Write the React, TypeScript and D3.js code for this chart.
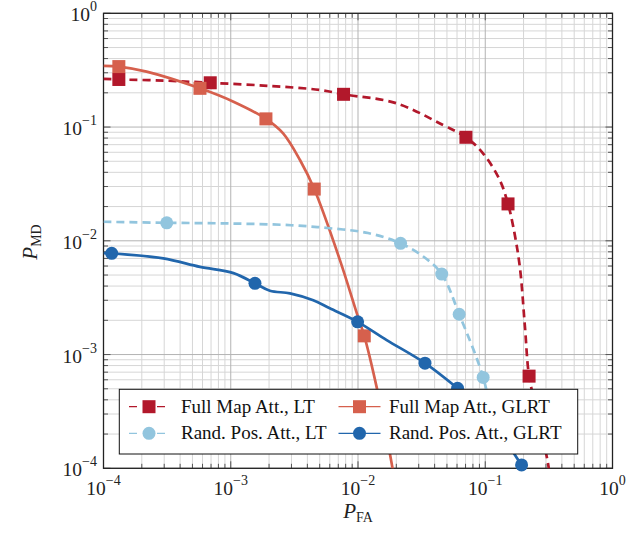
import React from 'react';
import * as d3 from 'd3';

// curve samples (P_FA, P_MD)
const fullLtX = [1e-4, 1.32e-4, 3e-4, 6.9e-4, 2e-3, 5e-3, 7.7e-3, 2e-2, 4.67e-2, 7.05e-2, 9.6e-2, 0.13, 0.151, 0.166, 0.187, 0.205, 0.221, 0.253, 0.308, 0.32];
const fullLtY = [0.265, 0.262, 0.256, 0.245, 0.23, 0.212, 0.194, 0.162, 0.104, 0.0813, 0.0588, 0.0342, 0.0211, 0.0133, 0.0059, 0.00176, 6.46e-4, 3.26e-4, 1.18e-4, 9e-5];
const fullLtMarkX = [1.32e-4, 6.9e-4, 7.7e-3, 0.0705, 0.151, 0.221];
const fullLtMarkY = [0.262, 0.245, 0.194, 0.0813, 0.0211, 6.46e-4];

const fullGlrtX = [1e-4, 1.32e-4, 2.18e-4, 5.73e-4, 1.05e-3, 1.89e-3, 2.58e-3, 3.5e-3, 4.53e-3, 7.2e-3, 9.8e-3, 1.12e-2, 1.4e-2, 1.68e-2, 1.9e-2];
const fullGlrtY = [0.345, 0.34, 0.307, 0.219, 0.167, 0.118, 0.088, 0.0513, 0.0285, 0.0068, 0.0023, 0.00146, 5.2e-4, 1.9e-4, 9e-5];
const fullGlrtMarkX = [1.32e-4, 5.73e-4, 1.89e-3, 4.53e-3, 1.12e-2];
const fullGlrtMarkY = [0.34, 0.219, 0.118, 0.0285, 0.00146];

const randLtX = [1e-4, 3.14e-4, 1e-3, 3e-3, 6e-3, 1.2e-2, 2.16e-2, 3.3e-2, 4.55e-2, 6.24e-2, 9.63e-2, 0.115];
const randLtY = [0.0147, 0.0144, 0.0142, 0.0137, 0.0129, 0.0117, 0.0095, 0.0072, 0.0051, 0.00226, 6.3e-4, 2.5e-4];
const randLtMarkX = [3.14e-4, 2.16e-2, 4.55e-2, 6.24e-2, 9.63e-2];
const randLtMarkY = [0.0144, 0.0095, 0.0051, 0.00226, 6.3e-4];

const randGlrtX = [1e-4, 1.16e-4, 2.95e-4, 5.73e-4, 1.05e-3, 1.55e-3, 2.03e-3, 2.92e-3, 4.45e-3, 6e-3, 9.93e-3, 1.68e-2, 3.36e-2, 6.06e-2, 0.12, 0.165, 0.193];
const randGlrtY = [7.8e-3, 7.76e-3, 7.0e-3, 5.9e-3, 5.2e-3, 4.23e-3, 3.64e-3, 3.45e-3, 3.0e-3, 2.55e-3, 1.94e-3, 1.34e-3, 8.4e-4, 5.05e-4, 2.6e-4, 1.4e-4, 1.07e-4];
const randGlrtMarkX = [1.16e-4, 1.55e-3, 9.93e-3, 3.36e-2, 6.06e-2, 0.193];
const randGlrtMarkY = [7.76e-3, 4.23e-3, 1.94e-3, 8.4e-4, 5.05e-4, 1.07e-4];

const tickExps = [-4, -3, -2, -1, 0];
const legendLabels = ['Full Map Att., LT', 'Full Map Att., GLRT', 'Rand. Pos. Att., LT', 'Rand. Pos. Att., GLRT'];

const W = 644, H = 534;
const left = 103.5, right = 612.5, top = 13.3, bottom = 468.3;
const serif = "'Liberation Serif', 'DejaVu Serif', serif";

const series = [
  { xs: fullLtX, ys: fullLtY, mx: fullLtMarkX, my: fullLtMarkY, color: '#b2182b', dashed: true, mark: 'square' },
  { xs: fullGlrtX, ys: fullGlrtY, mx: fullGlrtMarkX, my: fullGlrtMarkY, color: '#d6604d', dashed: false, mark: 'square' },
  { xs: randLtX, ys: randLtY, mx: randLtMarkX, my: randLtMarkY, color: '#92c5de', dashed: true, mark: 'circle' },
  { xs: randGlrtX, ys: randGlrtY, mx: randGlrtMarkX, my: randGlrtMarkY, color: '#2166ac', dashed: false, mark: 'circle' },
];

const Marker = ({ x, y, kind, color }: { x: number; y: number; kind: string; color: string }) =>
  kind === 'square'
    ? <rect x={x - 6.5} y={y - 6.5} width={13} height={13} fill={color} />
    : <circle cx={x} cy={y} r={6.5} fill={color} />;

export default function App() {
  const x = d3.scaleLog().domain([1e-4, 1]).range([left, right]);
  const y = d3.scaleLog().domain([1e-4, 1]).range([bottom, top]);
  const isMajor = (v: number) => Math.abs(Math.log10(v) - Math.round(Math.log10(v))) < 1e-9;
  const xt = x.ticks();
  const yt = y.ticks();
  const line = d3.line<[number, number]>()
    .x(d => x(d[0]))
    .y(d => y(d[1]))
    .curve(d3.curveCatmullRom.alpha(0.5));

  // legend layout
  const lx0 = 119.3, lx1 = 577.7, ly0 = 389.3, ly1 = 454;
  const colSample = [149, 359.5];
  const colText = [181, 389];
  const rowY = [406.7, 433.3];

  return (
    <svg width={W} height={H} style={{ position: 'absolute', left: 0, top: 0, display: 'block', fontFamily: serif }}>
      <defs>
        <clipPath id="plot"><rect x={left} y={top} width={right - left} height={bottom - top} /></clipPath>
      </defs>
      <rect width={W} height={H} fill="#fff" />
      {/* grid */}
      <g>
        {xt.filter(v => !isMajor(v)).map((v, i) => <line key={'xm' + i} x1={x(v)} x2={x(v)} y1={top} y2={bottom} stroke="#d6d6d6" strokeWidth={1} />)}
        {yt.filter(v => !isMajor(v)).map((v, i) => <line key={'ym' + i} y1={y(v)} y2={y(v)} x1={left} x2={right} stroke="#d6d6d6" strokeWidth={1} />)}
        {xt.filter(isMajor).map((v, i) => <line key={'xM' + i} x1={x(v)} x2={x(v)} y1={top} y2={bottom} stroke="#b3b3b3" strokeWidth={1} />)}
        {yt.filter(isMajor).map((v, i) => <line key={'yM' + i} y1={y(v)} y2={y(v)} x1={left} x2={right} stroke="#b3b3b3" strokeWidth={1} />)}
      </g>
      {/* inner ticks on all four sides */}
      <g stroke="#555" strokeWidth={1}>
        {xt.map((v, i) => {
          const len = isMajor(v) ? 7 : 4.5;
          return <g key={'xt' + i}>
            <line x1={x(v)} x2={x(v)} y1={bottom} y2={bottom - len} />
            <line x1={x(v)} x2={x(v)} y1={top} y2={top + len} />
          </g>;
        })}
        {yt.map((v, i) => {
          const len = isMajor(v) ? 7 : 4.5;
          return <g key={'yt' + i}>
            <line y1={y(v)} y2={y(v)} x1={left} x2={left + len} />
            <line y1={y(v)} y2={y(v)} x1={right} x2={right - len} />
          </g>;
        })}
      </g>
      <rect x={left} y={top} width={right - left} height={bottom - top} fill="none" stroke="#222" strokeWidth={1.3} />
      {/* tick labels */}
      {tickExps.map(e => (
        <text key={'xl' + e} x={x(Math.pow(10, e))} y={495} textAnchor="middle" fontSize={19.5} fill="#222">
          10<tspan dy={-10} fontSize={14}>{e === 0 ? '0' : '\u2212' + Math.abs(e)}</tspan>
        </text>
      ))}
      {tickExps.map(e => (
        <text key={'yl' + e} x={97} y={y(Math.pow(10, e)) + 8} textAnchor="end" fontSize={19.5} fill="#222">
          10<tspan dy={-10} fontSize={14}>{e === 0 ? '0' : '\u2212' + Math.abs(e)}</tspan>
        </text>
      ))}
      {/* axis labels */}
      <text x={358} y={518} textAnchor="middle" fontSize={21} fill="#222">
        <tspan fontStyle="italic">P</tspan><tspan fontSize={14} dy={4}>FA</tspan>
      </text>
      <text transform="translate(37,242) rotate(-90)" textAnchor="middle" fontSize={21} fill="#222">
        <tspan fontStyle="italic">P</tspan><tspan fontSize={14} dy={4}>MD</tspan>
      </text>
      {/* series */}
      {series.map((s, i) => (
        <g key={'s' + i}>
          <path d={line(s.xs.map((v, j) => [v, s.ys[j]] as [number, number])) || ''} fill="none" stroke={s.color}
            strokeWidth={2.7} strokeDasharray={s.dashed ? '8,5' : undefined} clipPath="url(#plot)" />
          {s.mx.map((v, j) => <Marker key={j} x={x(v)} y={y(s.my[j])} kind={s.mark} color={s.color} />)}
        </g>
      ))}
      {/* legend */}
      <rect x={lx0} y={ly0} width={lx1 - lx0} height={ly1 - ly0} fill="#fff" stroke="#111" strokeWidth={1} />
      {legendLabels.map((lab, k) => {
        const s = series[k];
        const c = k % 2, r = Math.floor(k / 2);
        const cx = colSample[c], cy = rowY[r];
        return <g key={'lg' + k}>
          <line x1={cx - 21} x2={cx + 21} y1={cy} y2={cy} stroke={s.color} strokeWidth={1.3} strokeDasharray={s.dashed ? '8,6' : undefined} strokeDashoffset={s.dashed ? -1 : 0} />
          <Marker x={cx} y={cy} kind={s.mark} color={s.color} />
          <text x={colText[c]} y={cy + 6} fontSize={19} fill="#111">{lab}</text>
        </g>;
      })}
    </svg>
  );
}
